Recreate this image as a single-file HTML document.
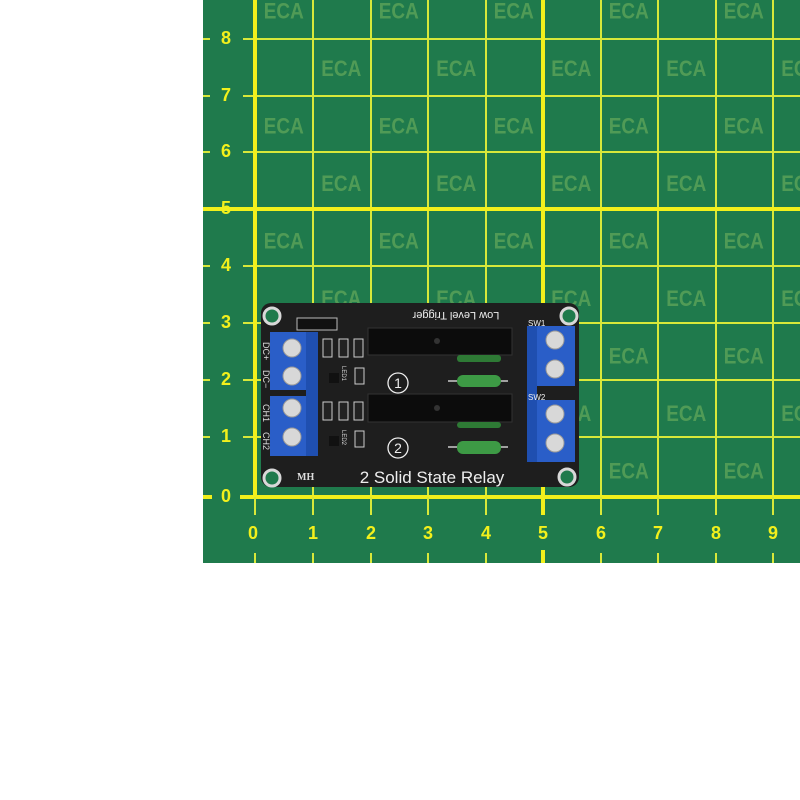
<!DOCTYPE html>
<html><head><meta charset="utf-8"><style>
html,body{margin:0;padding:0;background:#fff;}
svg{display:block;}
</style></head><body>
<svg width="800" height="800" viewBox="0 0 800 800" xmlns="http://www.w3.org/2000/svg" font-family="Liberation Sans, sans-serif">
<defs>
<pattern id="eca" x="255" y="-18.5" width="115" height="115" patternUnits="userSpaceOnUse">
<text x="28.75" y="37" text-anchor="middle" font-size="22" font-weight="bold" fill="#509b56" textLength="40" lengthAdjust="spacingAndGlyphs">ECA</text>
<text x="86.25" y="94.5" text-anchor="middle" font-size="22" font-weight="bold" fill="#509b56" textLength="40" lengthAdjust="spacingAndGlyphs">ECA</text>
</pattern>
</defs>
<rect x="203" y="0" width="597" height="563" fill="#1f7a4c"/>
<rect x="257" y="0" width="543" height="490" fill="url(#eca)"/>
<g stroke="#d8e83a" stroke-width="2">
<line x1="313" y1="0" x2="313" y2="497"/><line x1="371" y1="0" x2="371" y2="497"/><line x1="428" y1="0" x2="428" y2="497"/><line x1="486" y1="0" x2="486" y2="497"/>
<line x1="601" y1="0" x2="601" y2="497"/><line x1="658" y1="0" x2="658" y2="497"/><line x1="716" y1="0" x2="716" y2="497"/><line x1="773" y1="0" x2="773" y2="497"/>
<line x1="243" y1="39" x2="800" y2="39"/><line x1="243" y1="96" x2="800" y2="96"/><line x1="243" y1="152" x2="800" y2="152"/><line x1="243" y1="266" x2="800" y2="266"/><line x1="243" y1="323" x2="800" y2="323"/><line x1="243" y1="380" x2="800" y2="380"/><line x1="243" y1="437" x2="800" y2="437"/>
<line x1="203" y1="39" x2="210" y2="39"/><line x1="203" y1="96" x2="210" y2="96"/><line x1="203" y1="152" x2="210" y2="152"/><line x1="203" y1="266" x2="210" y2="266"/><line x1="203" y1="323" x2="210" y2="323"/><line x1="203" y1="380" x2="210" y2="380"/><line x1="203" y1="437" x2="210" y2="437"/>
</g>
<g stroke="#f2f01c" stroke-width="4">
<line x1="255" y1="0" x2="255" y2="499"/><line x1="543" y1="0" x2="543" y2="515"/>
<line x1="203" y1="209" x2="800" y2="209"/><line x1="240" y1="497" x2="800" y2="497"/>
<line x1="203" y1="497" x2="212" y2="497"/>
<line x1="543" y1="550" x2="543" y2="563"/>
</g>
<g stroke="#d8e83a" stroke-width="2">
<line x1="313" y1="497" x2="313" y2="515"/><line x1="371" y1="497" x2="371" y2="515"/><line x1="428" y1="497" x2="428" y2="515"/><line x1="486" y1="497" x2="486" y2="515"/><line x1="601" y1="497" x2="601" y2="515"/><line x1="658" y1="497" x2="658" y2="515"/><line x1="716" y1="497" x2="716" y2="515"/><line x1="773" y1="497" x2="773" y2="515"/><line x1="255" y1="497" x2="255" y2="515"/>
<line x1="255" y1="553" x2="255" y2="563"/><line x1="313" y1="553" x2="313" y2="563"/><line x1="371" y1="553" x2="371" y2="563"/><line x1="428" y1="553" x2="428" y2="563"/><line x1="486" y1="553" x2="486" y2="563"/><line x1="601" y1="553" x2="601" y2="563"/><line x1="658" y1="553" x2="658" y2="563"/><line x1="716" y1="553" x2="716" y2="563"/><line x1="773" y1="553" x2="773" y2="563"/>
</g>
<g fill="#f2f01c" font-size="18" font-weight="bold" text-anchor="middle">
<text x="226" y="44">8</text><text x="226" y="101">7</text><text x="226" y="157">6</text><text x="226" y="214">5</text><text x="226" y="271">4</text><text x="226" y="328">3</text><text x="226" y="385">2</text><text x="226" y="442">1</text><text x="226" y="502">0</text>
<text x="253" y="539">0</text><text x="313" y="539">1</text><text x="371" y="539">2</text><text x="428" y="539">3</text><text x="486" y="539">4</text><text x="543" y="539">5</text><text x="601" y="539">6</text><text x="658" y="539">7</text><text x="716" y="539">8</text><text x="773" y="539">9</text>
</g>
<!-- board -->
<rect x="261" y="303" width="318" height="184" rx="10" fill="#1e1e1e"/>
<g fill="#1f7a4c" stroke="#d8d8d8" stroke-width="3">
<circle cx="272" cy="316" r="8"/><circle cx="569" cy="316" r="8"/><circle cx="272" cy="478" r="8"/><circle cx="567" cy="477" r="8"/>
</g>
<rect x="297" y="318" width="40" height="12" fill="#111" stroke="#bbb" stroke-width="1"/>
<rect x="270" y="332" width="48" height="58" fill="#2a5ec8"/>
<rect x="270" y="396" width="48" height="60" fill="#2a5ec8"/>
<rect x="306" y="332" width="12" height="124" fill="#1f4fb0"/>
<rect x="527" y="326" width="48" height="60" fill="#2a5ec8"/>
<rect x="527" y="400" width="48" height="62" fill="#2a5ec8"/>
<rect x="527" y="326" width="10" height="136" fill="#1f4fb0"/>
<g fill="#d8d8d8" stroke="#999" stroke-width="1">
<circle cx="292" cy="348" r="9"/><circle cx="292" cy="376" r="9"/><circle cx="292" cy="408" r="9"/><circle cx="292" cy="437" r="9"/>
<circle cx="555" cy="340" r="9"/><circle cx="555" cy="369" r="9"/><circle cx="555" cy="414" r="9"/><circle cx="555" cy="443" r="9"/>
</g>
<g fill="#222" stroke="#ccc" stroke-width="1">
<rect x="323" y="339" width="9" height="18"/><rect x="339" y="339" width="9" height="18"/><rect x="354" y="339" width="9" height="18"/>
<rect x="323" y="402" width="9" height="18"/><rect x="339" y="402" width="9" height="18"/><rect x="354" y="402" width="9" height="18"/>
<rect x="355" y="368" width="9" height="16"/><rect x="355" y="431" width="9" height="16"/>
</g>
<rect x="329" y="373" width="10" height="10" fill="#111"/><rect x="329" y="436" width="10" height="10" fill="#111"/>
<rect x="368" y="328" width="144" height="27" fill="#0c0c0c" stroke="#333"/>
<rect x="368" y="394" width="144" height="28" fill="#0c0c0c" stroke="#333"/>
<circle cx="437" cy="341" r="3" fill="#333"/><circle cx="437" cy="408" r="3" fill="#333"/>
<g stroke="#ccc" stroke-width="1.5"><line x1="448" y1="381" x2="508" y2="381"/><line x1="448" y1="447" x2="508" y2="447"/></g>
<rect x="457" y="375" width="44" height="12" rx="6" fill="#3d9a45"/>
<rect x="457" y="441" width="44" height="13" rx="6" fill="#3d9a45"/>
<rect x="457" y="355" width="44" height="7" rx="3" fill="#2e7a35"/>
<rect x="457" y="422" width="44" height="6" rx="3" fill="#2e7a35"/>
<g fill="none" stroke="#eee" stroke-width="1.3"><circle cx="398" cy="383" r="10"/><circle cx="398" cy="448" r="10"/></g>
<g fill="#eee" font-size="14" text-anchor="middle"><text x="398" y="388">1</text><text x="398" y="453">2</text></g>
<text transform="translate(456,312) rotate(180)" text-anchor="middle" fill="#eee" font-size="11">Low Level Trigger</text>
<text x="432" y="483" text-anchor="middle" fill="#eee" font-size="17">2 Solid State Relay</text>
<text x="297" y="480" fill="#ddd" font-size="10" font-weight="bold" font-family="Liberation Serif, serif">MH</text>
<text x="528" y="326" fill="#eee" font-size="8">SW1</text>
<text x="528" y="400" fill="#eee" font-size="8">SW2</text>
<g fill="#ddd" font-size="9">
<text transform="translate(263,342) rotate(90)">DC+</text>
<text transform="translate(263,370) rotate(90)">DC−</text>
<text transform="translate(263,404) rotate(90)">CH1</text>
<text transform="translate(263,432) rotate(90)">CH2</text>
<text transform="translate(342,366) rotate(90)" font-size="6">LED1</text>
<text transform="translate(342,430) rotate(90)" font-size="6">LED2</text>
</g>
</svg>
</body></html>
